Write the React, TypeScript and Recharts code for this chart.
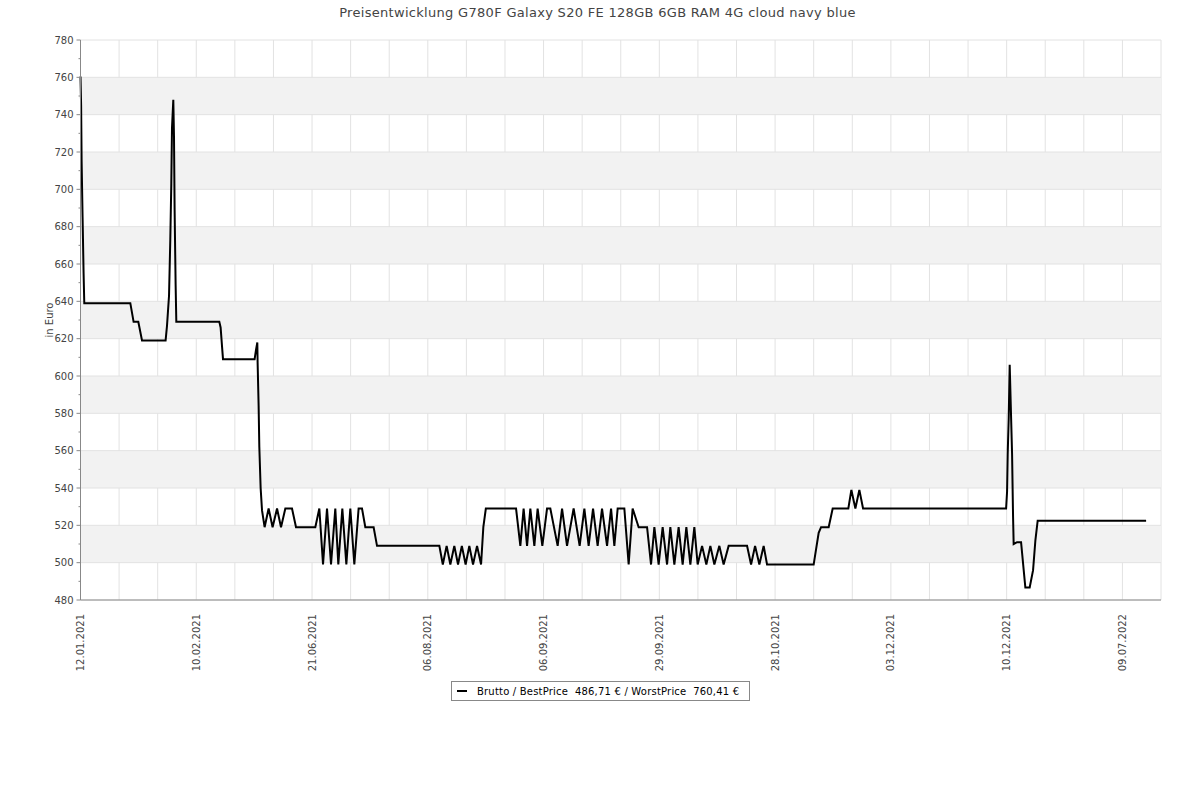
import React from 'react';
import {
  LineChart,
  Line,
  XAxis,
  YAxis,
  CartesianGrid,
  ReferenceArea,
  ReferenceLine,
} from 'recharts';

const title = 'Preisentwicklung G780F Galaxy S20 FE 128GB 6GB RAM 4G cloud navy blue';

// x axis: one category step per gridline, every third one is labelled
const tickLabels = [
  '12.01.2021',
  '10.02.2021',
  '21.06.2021',
  '06.08.2021',
  '06.09.2021',
  '29.09.2021',
  '28.10.2021',
  '03.12.2021',
  '10.12.2021',
  '09.07.2022',
];
const xSteps = [
  0, 1, 2, 3, 4, 5, 6, 7, 8, 9, 10, 11, 12, 13, 14, 15, 16, 17, 18, 19, 20, 21, 22, 23, 24, 25, 26,
  27, 28,
];

// y axis values (labelled ticks)
const yMajor = [480, 500, 520, 540, 560, 580, 600, 620, 640, 660, 680, 700, 720, 740, 760, 780];

// price history: position on the axis and gross best price
const positions = [
  0, 0.016, 0.029, 0.054, 0.08, 0.098, 1.291, 1.376, 1.498, 1.594, 2.205, 2.242, 2.294, 2.327,
  2.353, 2.371, 2.405, 2.423, 2.439, 2.465, 2.483, 3.597, 3.631, 3.667, 3.693, 4.512, 4.548, 4.582,
  4.59, 4.616, 4.634, 4.668, 4.704, 4.771, 4.875, 4.978, 5.093, 5.196, 5.308, 5.481, 5.585, 6.085,
  6.189, 6.285, 6.388, 6.492, 6.603, 6.681, 6.785, 6.889, 6.992, 7.096, 7.207, 7.295, 7.381, 7.596,
  7.684, 9.299, 9.389, 9.488, 9.584, 9.687, 9.783, 9.882, 9.98, 10.076, 10.172, 10.276, 10.38,
  10.439, 10.504, 11.287, 11.398, 11.483, 11.572, 11.657, 11.761, 11.846, 11.968, 12.09, 12.175,
  12.365, 12.479, 12.608, 12.779, 12.935, 13.057, 13.168, 13.282, 13.401, 13.515, 13.645, 13.749,
  13.834, 13.92, 14.093, 14.205, 14.308, 14.464, 14.682, 14.785, 14.871, 14.982, 15.086, 15.2,
  15.285, 15.389, 15.5, 15.604, 15.7, 15.804, 15.907, 15.993, 16.107, 16.218, 16.322, 16.426,
  16.555, 16.666, 16.796, 17.273, 17.377, 17.481, 17.592, 17.703, 17.791, 18.999, 19.129, 19.191,
  19.388, 19.492, 19.898, 19.976, 20.08, 20.183, 20.279, 23.986, 24.011, 24.027, 24.053, 24.079,
  24.115, 24.141, 24.166, 24.182, 24.27, 24.374, 24.442, 24.485, 24.597, 24.685, 24.745, 24.804,
  27.614,
];
const prices = [
  760.41, 745, 715, 685, 655, 639, 639, 629, 629, 619, 619, 627, 643, 673, 703, 733, 748, 728, 689,
  649, 629, 629, 626, 616, 609, 609, 614, 618, 607, 584, 562, 540, 528, 519, 529, 519, 529, 519, 529,
  529, 519, 519, 529, 499, 529, 499, 529, 499, 529, 499, 529, 499, 529, 529, 519, 519, 509, 509, 499,
  509, 499, 509, 499, 509, 499, 509, 499, 509, 499, 519, 529, 529, 509, 529, 509, 529, 509, 529, 509,
  529, 529, 509, 529, 509, 529, 509, 529, 509, 529, 509, 529, 509, 529, 509, 529, 529, 499, 529, 519,
  519, 499, 519, 499, 519, 499, 519, 499, 519, 499, 519, 499, 519, 499, 509, 499, 509, 499, 509, 499,
  509, 509, 499, 509, 499, 509, 499, 499, 516, 519, 519, 529, 529, 539, 529, 539, 529, 529, 538, 558,
  577, 606, 578, 558, 525, 510, 511, 511, 496, 486.71, 486.71, 496, 512, 522.5, 522.5,
];

const bestPrice = '486,71 €';
const worstPrice = '760,41 €';

const data = positions.map((t, i) => ({ t, price: prices[i] }));
const yTicks = yMajor.flatMap((v, i) => (i === 0 ? [v] : [v - 10, v]));
const bands = yMajor.filter((_, i) => i % 2 === 1 && i < yMajor.length - 1);

const FONT = '"DejaVu Sans", Verdana, sans-serif';

const YTick = (props: any) => {
  const { x, y, payload } = props;
  const major = yMajor.includes(payload.value);
  return (
    <g>
      <line x1={x - (major ? 4 : 2)} x2={x} y1={y} y2={y} stroke="#888" />
      {major && (
        <text x={x - 7} y={y} dy={3.5} textAnchor="end" fontSize={10} fill="#444" fontFamily={FONT}>
          {payload.value}
        </text>
      )}
    </g>
  );
};

const XTick = (props: any) => {
  const { x, y, payload } = props;
  const i = payload.value;
  if (i % 3 !== 0) return null;
  const label = tickLabels[i / 3];
  if (!label) return null;
  return (
    <text
      x={x}
      y={y + 14}
      dy={3.5}
      textAnchor="end"
      fontSize={10}
      fill="#444"
      fontFamily={FONT}
      transform={`rotate(-90, ${x}, ${y + 14})`}
    >
      {label}
    </text>
  );
};

export default function App() {
  return (
    <div
      style={{
        position: 'absolute',
        left: 0,
        top: 0,
        width: 1200,
        height: 800,
        background: '#fff',
        fontFamily: FONT,
      }}
    >
      <div
        style={{
          position: 'absolute',
          top: 4,
          left: 0,
          width: 1195,
          textAlign: 'center',
          fontSize: 13,
          letterSpacing: '0.3px',
          lineHeight: '17px',
          color: '#444',
        }}
      >
        {title}
      </div>
      <div
        style={{
          position: 'absolute',
          left: 49,
          top: 320,
          transform: 'translate(-50%, -50%) rotate(-90deg)',
          fontSize: 10,
          color: '#444',
          whiteSpace: 'nowrap',
        }}
      >
        in Euro
      </div>
      <LineChart
        width={1200}
        height={800}
        data={data}
        margin={{ top: 40, right: 39, bottom: 130, left: 0 }}
      >
        {bands.map((b) => (
          <ReferenceArea
            key={b}
            y1={b}
            y2={b + 20}
            fill="#f2f2f2"
            fillOpacity={1}
            stroke="none"
            ifOverflow="visible"
          />
        ))}
        <CartesianGrid horizontal={false} stroke="#e2e2e2" />
        {yMajor.map((v) => (
          <ReferenceLine key={v} y={v} stroke="#e2e2e2" ifOverflow="visible" />
        ))}
        <XAxis
          dataKey="t"
          type="number"
          domain={[0, 28]}
          ticks={xSteps}
          interval={0}
          height={70}
          tickSize={0}
          tickMargin={0}
          tickLine={false}
          axisLine={{ stroke: '#888' }}
          tick={<XTick />}
        />
        <YAxis
          type="number"
          domain={[480, 780]}
          ticks={yTicks}
          interval={0}
          width={80.5}
          tickSize={0}
          tickMargin={0}
          tickLine={false}
          axisLine={{ stroke: '#888' }}
          tick={<YTick />}
        />
        <Line
          type="linear"
          dataKey="price"
          stroke="#000"
          strokeWidth={2}
          dot={false}
          activeDot={false}
          isAnimationActive={false}
        />
      </LineChart>
      <div
        style={{
          position: 'absolute',
          left: 451,
          top: 681,
          width: 297,
          height: 18,
          border: '1px solid #888',
          display: 'flex',
          alignItems: 'center',
          fontSize: 10,
          letterSpacing: '0.2px',
          color: '#000',
          whiteSpace: 'pre',
        }}
      >
        <span
          style={{ display: 'inline-block', width: 10, height: 2, background: '#000', marginLeft: 5 }}
        />
        <span style={{ marginLeft: 10 }}>
          {`Brutto / BestPrice  ${bestPrice} / WorstPrice  ${worstPrice}`}
        </span>
      </div>
    </div>
  );
}
